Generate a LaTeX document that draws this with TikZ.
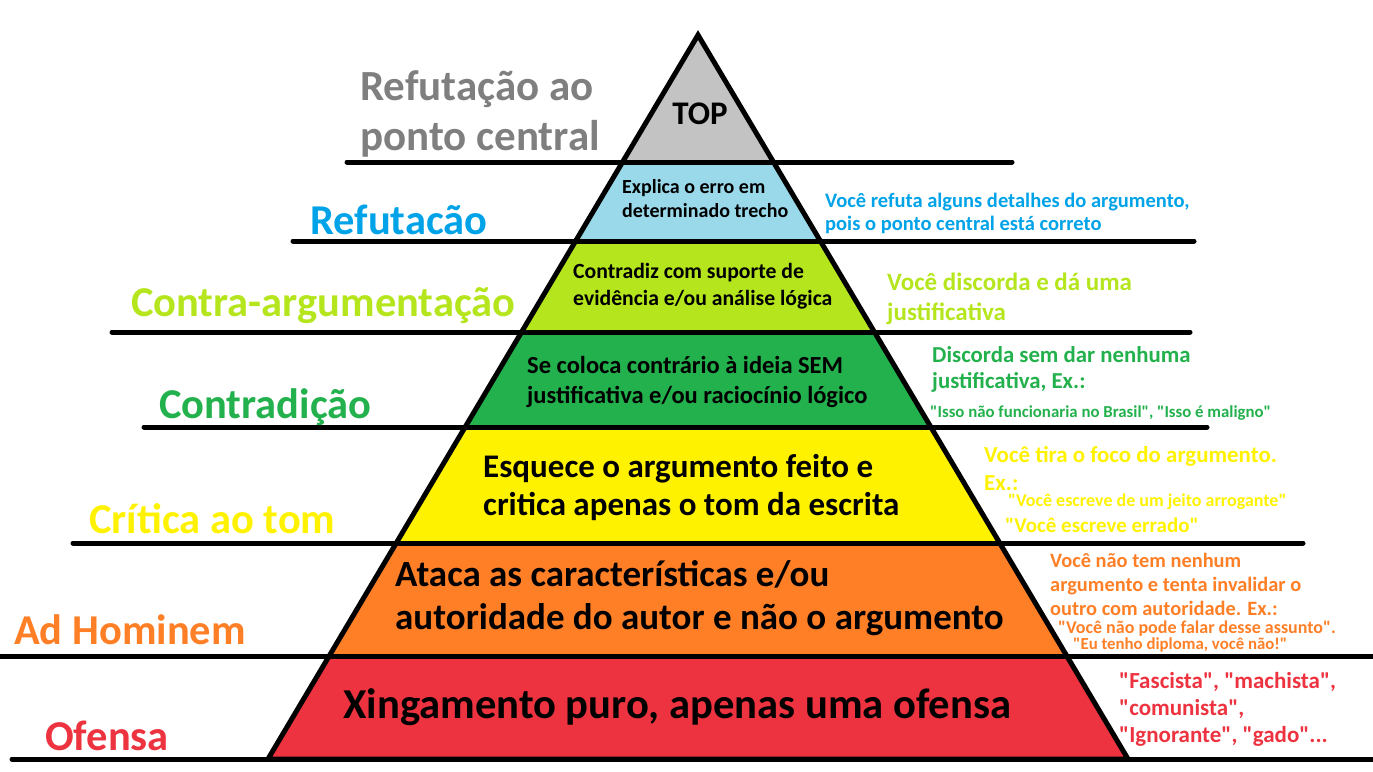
\documentclass[tikz,border=0pt]{standalone}
\usepackage{fontspec}
\setmainfont{Carlito}
\usetikzlibrary{positioning,calc}
\definecolor{topgray}{RGB}{195,195,195}
\definecolor{refblue}{RGB}{153,217,234}
\definecolor{lime}{RGB}{181,230,29}
\definecolor{grn}{RGB}{34,177,76}
\definecolor{yel}{RGB}{255,242,0}
\definecolor{org}{RGB}{255,127,39}
\definecolor{rd}{RGB}{238,51,64}
\definecolor{lblgray}{RGB}{127,127,127}
\definecolor{lblblue}{RGB}{0,162,232}
\newcommand{\fsz}[2]{\fontsize{#1}{#2}\selectfont}
\newcommand{\qt}[1]{\textquotedbl#1\textquotedbl}

\begin{document}
\begin{tikzpicture}[x=1pt, y=-1pt,
    shelf/.style={line width=5pt, line cap=round},
    lvl/.style={anchor=base west, inner sep=0pt, font=\bfseries\fsz{42.5}{50}},
    inside/.style={anchor=base west, inner sep=0pt, align=left},
    note/.style={anchor=base west, inner sep=0pt, align=left}]
    \useasboundingbox (0,0) rectangle (1373,771);
    \coordinate (apex) at (698,35);
    \coordinate (bl) at (268,759);
    \coordinate (br) at (1128,759);
    % coloured bands of the pyramid
    \begin{scope}
      \clip (apex) -- (bl) -- (br) -- cycle;
      \fill[topgray] (0,0) rectangle (1373,162);
      \fill[refblue] (0,162) rectangle (1373,241);
      \fill[lime] (0,241) rectangle (1373,332);
      \fill[grn] (0,332) rectangle (1373,427);
      \fill[yel] (0,427) rectangle (1373,543);
      \fill[org] (0,543) rectangle (1373,656);
      \fill[rd] (0,656) rectangle (1373,759);
    \end{scope}
    \draw[line width=5pt, line join=miter] (apex) -- (bl) -- (br) -- cycle;
    % shelves
    \draw[shelf] (347,162) -- (1012,162);
    \draw[shelf] (293,241) -- (1194,241);
    \draw[shelf] (112,332) -- (1190,332);
    \draw[shelf] (144,427) -- (1207,427);
    \draw[shelf] (73,543) -- (1303,543);
    \draw[shelf] (-5,656) -- (1380,656);
    \draw[shelf] (12,759) -- (1380,759);
    % level names
    \node[lvl, text=lblgray, align=left, font=\bfseries\fsz{43}{50}] (lblTop) at (360,150) {Refutação ao\\ponto central};
    \node[lvl, text=lblblue] (lblRef) at (310,234) {Refutacão};
    \node[lvl, text=lime] (lblCounter) at (131,316) {Contra-argumentação};
    \node[lvl, text=grn] (lblContra) at (159,418) {Contradição};
    \node[lvl, text=yel] (lblTone) at (89,533) {Crítica ao tom};
    \node[lvl, text=org] (lblAdHom) at (14,644) {Ad Hominem};
    \node[lvl, text=rd] (lblOff) at (45,750) {Ofensa};
    % inside the pyramid
    \node[anchor=base, inner sep=0pt, font=\bfseries\fsz{33}{40}] (inTop) at (700,124) {TOP};
    \node[inside, font=\bfseries\fsz{20}{24}] (inRef) at (622,217) {Explica o erro em\\determinado trecho};
    \node[inside, font=\bfseries\fsz{21.7}{27}] (inCounter) at (573,305) {Contradiz com suporte de\\evidência e/ou análise lógica};
    \node[inside, font=\bfseries\fsz{24.5}{30}] (inContra) at (527,403) {Se coloca contrário à ideia SEM\\justificativa e/ou raciocínio lógico};
    \node[inside, font=\bfseries\fsz{33}{38}] (inTone) at (483,515) {Esquece o argumento feito e\\critica apenas o tom da escrita};
    \node[inside, font=\bfseries\fsz{37}{43}] (inAdHom) at (395,629) {Ataca as características e/ou\\autoridade do autor e não o argumento};
    \node[inside, font=\bfseries\fsz{42.6}{48}] (inOff) at (343,718) {Xingamento puro, apenas uma ofensa};
    % notes on the right
    \node[note, text=lblblue, font=\bfseries\fsz{20.5}{23}] (noteRef) at (825,230) {Você refuta alguns detalhes do argumento,\\pois o ponto central está correto};
    \node[note, text=lime, font=\bfseries\fsz{25}{30}] (noteCounter) at (887,320) {Você discorda e dá uma\\justificativa};
    \node[note, text=grn, font=\bfseries\fsz{22.8}{26}] (noteContra) at (932,388) {Discorda sem dar nenhuma\\justificativa, Ex.:};
    \node[note, text=grn, font=\bfseries\fsz{16.8}{20}] (exContra) at (930,417) {\qt{Isso não funcionaria no Brasil}, \qt{Isso é maligno}};
    \node[note, text=yel, font=\bfseries\fsz{22.9}{28}] (noteTone) at (984,490) {Você tira o foco do argumento.\\Ex.:};
    \node[note, text=yel, font=\bfseries\fsz{18}{20}] (exTone) at (1008,506) {\qt{Você escreve de um jeito arrogante}};
    \node[note, text=yel, font=\bfseries\fsz{21}{24}] (exTone2) at (1005,532) {\qt{Você escreve errado}};
    \node[note, text=org, font=\bfseries\fsz{20.4}{24}] (noteAdHom) at (1050,615) {Você não tem nenhum\\argumento e tenta invalidar o\\outro com autoridade. Ex.:};
    \node[note, text=org, font=\bfseries\fsz{18}{20}] (exAdHom) at (1058,633) {\qt{Você não pode falar desse assunto}.};
    \node[note, text=org, font=\bfseries\fsz{16.8}{19}] (exAdHom2) at (1073,649) {\qt{Eu tenho diploma, você não!}};
    \node[note, text=rd, font=\bfseries\fsz{23}{27}] (noteOff) at (1119,742) {\qt{Fascista}, \qt{machista},\\\qt{comunista},\\\qt{Ignorante}, \qt{gado}...};
  \end{tikzpicture}
\end{document}
